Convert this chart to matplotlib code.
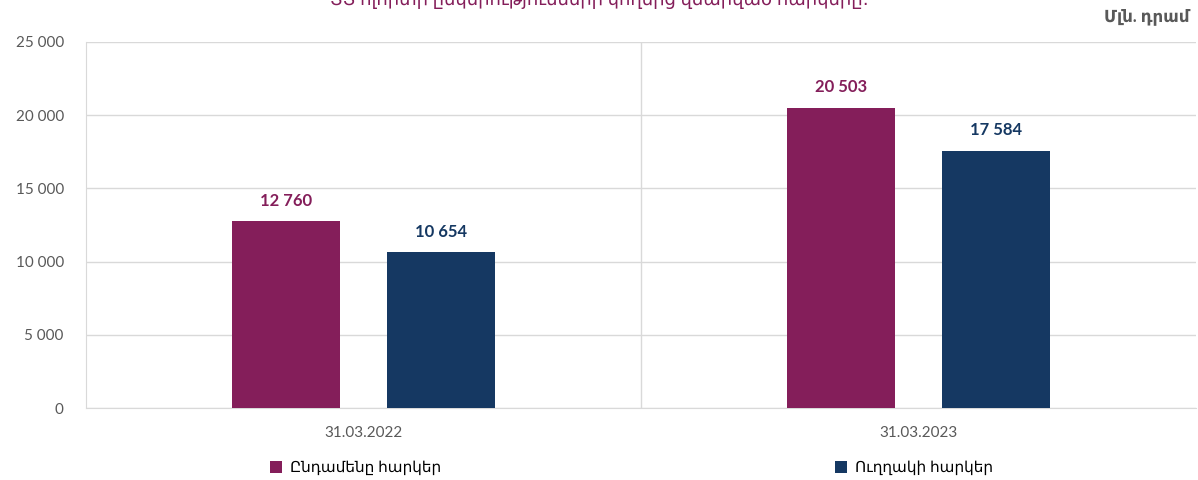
import matplotlib.pyplot as plt
import numpy as np

plt.rcParams['font.family'] = ['Lato', 'DejaVu Sans']

# data
dates = ["31.03.2022", "31.03.2023"]
total_tax = [12760, 20503]
direct_tax = [10654, 17584]
series_names = ["Ընդամենը հարկեր", "Ուղղակի հարկեր"]
yticks = [0, 5000, 10000, 15000, 20000, 25000]

maroon = "#841E5A"
navy = "#153862"
gray = "#595959"
grid = "#D9D9D9"

fig = plt.figure(figsize=(11.98, 4.8), dpi=100)
ax = fig.add_axes([0.0718, 0.15, 0.9265, 0.7625])

x = np.arange(len(dates))
w = 0.194
off = 0.14
b1 = ax.bar(x - off, total_tax, w, color=maroon, label=series_names[0], zorder=3)
b2 = ax.bar(x + off, direct_tax, w, color=navy, label=series_names[1], zorder=3)


def fmt(v):
    return f"{v:,.0f}".replace(",", " ")


for bars, col in [(b1, maroon), (b2, navy)]:
    for r in bars:
        ax.annotate(fmt(r.get_height()), (r.get_x() + r.get_width() / 2, r.get_height()),
                    xytext=(0, 9), textcoords="offset points", ha="center", va="bottom",
                    fontsize=12, fontweight="bold", color=col)

ax.set_xlim(-0.5, len(dates) - 0.5)
ax.set_ylim(0, 25000)
ax.set_yticks(yticks)
ax.set_yticklabels([fmt(v) for v in yticks], fontsize=11, color=gray)
ax.set_xticks(x)
ax.set_xticklabels(dates, fontsize=11, color=gray)
ax.tick_params(axis="both", length=0)
ax.tick_params(axis="y", pad=16)
ax.tick_params(axis="x", pad=13)
ax.grid(axis="y", color=grid, linewidth=1, zorder=0)
for xs in np.arange(0.5, len(dates) - 0.5):
    ax.axvline(xs, color=grid, linewidth=1, zorder=0)
for s in ["top", "right"]:
    ax.spines[s].set_visible(False)
for s in ["left", "bottom"]:
    ax.spines[s].set_color(grid)

# title is cut off at the top edge, as in the original
fig.text(0.5, 0.999, "ՏՏ ոլորտի ընկերությունների կողմից վճարված հարկերը։",
         ha="center", va="center", fontsize=13, color=maroon)
fig.text(0.993, 0.965, "Մլն. դրամ", ha="right", va="center", fontsize=12,
         fontweight="bold", color=gray)

fig.legend(handles=[b1, b2], loc="center", bbox_to_anchor=(0.527, 0.025), ncol=2,
           frameon=False, fontsize=11, handlelength=0.8, handleheight=0.8,
           handletextpad=0.5, columnspacing=25.8, labelcolor="#000000")

fig.savefig("out.png", dpi=100)
